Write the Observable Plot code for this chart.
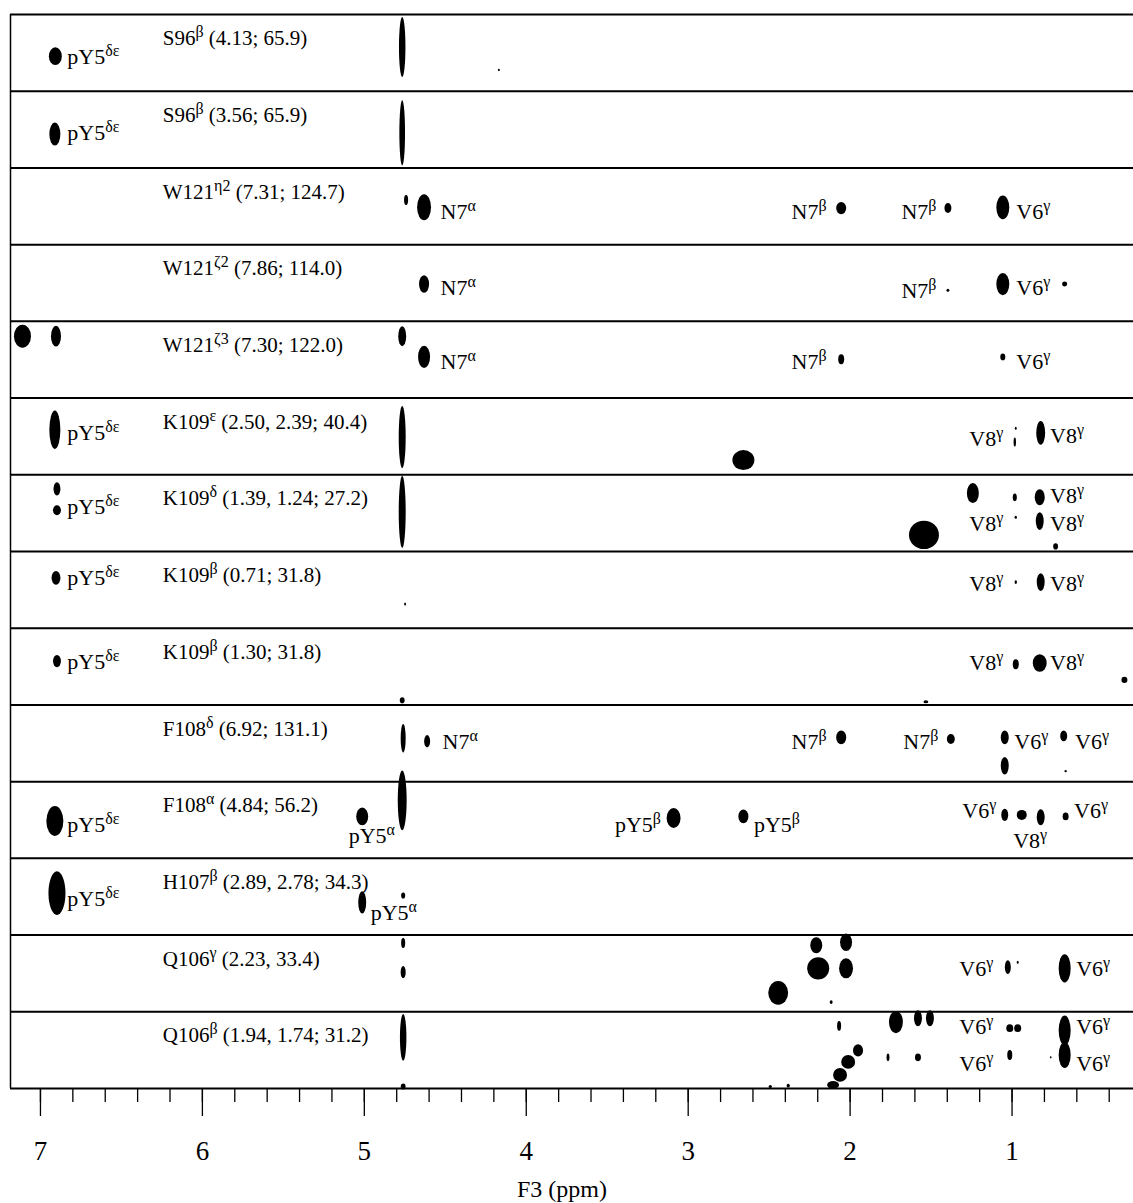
<!DOCTYPE html>
<html><head><meta charset="utf-8">
<script src="https://cdn.jsdelivr.net/npm/d3@7"></script>
<script src="https://cdn.jsdelivr.net/npm/@observablehq/plot@0.6"></script>
<style>body{margin:0;background:#fff;}</style>
</head><body><div id="chart"></div>
<script>
// Strip titles (top to bottom)
const stripTitles = [
  "S96^β (4.13; 65.9)",
  "S96^β (3.56; 65.9)",
  "W121^{η2} (7.31; 124.7)",
  "W121^{ζ2} (7.86; 114.0)",
  "W121^{ζ3} (7.30; 122.0)",
  "K109^ε (2.50, 2.39; 40.4)",
  "K109^δ (1.39, 1.24; 27.2)",
  "K109^β (0.71; 31.8)",
  "K109^β (1.30; 31.8)",
  "F108^δ (6.92; 131.1)",
  "F108^α (4.84; 56.2)",
  "H107^β (2.89, 2.78; 34.3)",
  "Q106^γ (2.23, 33.4)",
  "Q106^β (1.94, 1.74; 31.2)"
];
const titlePpm = 6.245;
const titleF1 = 0.40;

const majorTicks = [7, 6, 5, 4, 3, 2, 1];
const minorTicks = [7.0, 6.8, 6.6, 6.4, 6.2, 6.0, 5.8, 5.6, 5.4, 5.2, 5.0, 4.8, 4.6, 4.4, 4.2, 4.0, 3.8, 3.6, 3.4, 3.2, 3.0, 2.8, 2.6, 2.4, 2.2, 2.0, 1.8, 1.6, 1.4, 1.2, 1.0, 0.8, 0.6, 0.4];
const xDomain = [7.185, 0.25];

// Cross peaks: [strip, F3 ppm, F1 position within strip, F3 linewidth (ppm), F1 linewidth]
const peaks = [
  [0, 6.905, .55, .08, .23], [0, 4.763, .43, .04, .78], [0, 4.166, .73, .012, .03],
  [1, 6.908, .565, .068, .30], [1, 4.763, .55, .035, .85],
  [2, 4.739, .425, .025, .13], [2, 4.628, .52, .086, .34], [2, 2.052, .53, .062, .16], [2, 1.393, .53, .043, .13], [2, 1.054, .52, .08, .31],
  [3, 4.628, .52, .062, .23], [3, 1.393, .60, .018, .04], [3, 1.054, .52, .08, .29], [3, 0.672, .52, .031, .065],
  [4, 7.108, .20, .105, .30], [4, 6.901, .20, .062, .27], [4, 4.763, .20, .049, .26], [4, 4.628, .47, .074, .29], [4, 2.052, .50, .037, .13], [4, 1.054, .47, .031, .09],
  [5, 6.908, .42, .068, .50], [5, 4.763, .515, .043, .81], [5, 2.656, .815, .136, .26], [5, 0.974, .40, .012, .04], [5, 0.980, .58, .015, .12], [5, 0.820, .46, .055, .31],
  [6, 6.895, .19, .043, .17], [6, 6.895, .47, .049, .13], [6, 4.763, .49, .043, .94], [6, 1.239, .245, .074, .26], [6, 1.541, .79, .185, .37], [6, 0.980, .30, .025, .10], [6, 0.826, .30, .062, .21], [6, 0.974, .56, .015, .04], [6, 0.826, .61, .049, .23], [6, 0.728, .94, .03, .08],
  [7, 6.901, .35, .055, .18], [7, 4.745, .69, .012, .04], [7, 0.974, .405, .015, .05], [7, 0.820, .405, .049, .23],
  [8, 6.895, .435, .049, .16], [8, 4.763, .945, .03, .08], [8, 1.529, .965, .03, .04], [8, 0.974, .475, .037, .13], [8, 0.826, .46, .086, .23], [8, 0.303, .68, .037, .08],
  [9, 4.757, .44, .031, .37], [9, 4.609, .48, .037, .16], [9, 2.052, .43, .062, .18], [9, 1.375, .45, .049, .13], [9, 1.042, .43, .049, .18], [9, 1.042, .80, .049, .23], [9, 0.678, .41, .043, .14], [9, 0.666, .87, .015, .03],
  [10, 6.908, .52, .105, .39], [10, 5.010, .46, .074, .23], [10, 4.763, .25, .055, .78], [10, 3.087, .48, .086, .26], [10, 2.656, .46, .062, .18], [10, 1.042, .44, .043, .16], [10, 0.937, .44, .062, .13], [10, 0.820, .47, .049, .21], [10, 0.666, .46, .037, .10],
  [11, 6.895, .46, .105, .57], [11, 5.010, .58, .049, .29], [11, 4.757, .49, .025, .08],
  [12, 4.757, .11, .025, .13], [12, 4.757, .49, .031, .16], [12, 2.206, .14, .074, .21], [12, 2.022, .10, .074, .23], [12, 2.194, .44, .136, .29], [12, 2.022, .44, .086, .26], [12, 2.441, .76, .123, .31], [12, 2.114, .88, .018, .05], [12, 1.023, .425, .037, .18], [12, 0.962, .36, .012, .04], [12, 0.672, .44, .074, .37],
  [13, 4.757, .34, .04, .61], [13, 4.757, .98, .03, .08], [13, 2.065, .19, .025, .13], [13, 1.714, .14, .086, .29], [13, 1.578, .09, .049, .21], [13, 1.504, .09, .049, .21], [13, 1.011, .22, .043, .10], [13, 0.962, .22, .043, .10], [13, 0.672, .25, .074, .39], [13, 0.672, .57, .074, .34], [13, 1.948, .51, .062, .16], [13, 2.009, .66, .086, .18], [13, 2.059, .83, .086, .18], [13, 2.102, .96, .074, .10], [13, 1.763, .60, .018, .10], [13, 1.578, .60, .037, .10], [13, 1.011, .57, .031, .13], [13, 0.758, .60, .01, .03], [13, 2.379, .97, .02, .05], [13, 2.49, .98, .02, .04]
];

// Assignment labels: [strip, F3 ppm, F1 baseline position, text]
const labelsStart = [
  [0, 6.834, .64, "pY5^{δε}"], [1, 6.834, .64, "pY5^{δε}"],
  [2, 4.529, .66, "N7^α"], [2, 0.974, .66, "V6^γ"],
  [3, 4.529, .66, "N7^α"], [3, 0.974, .66, "V6^γ"],
  [4, 4.529, .62, "N7^α"], [4, 0.974, .62, "V6^γ"],
  [5, 6.834, .55, "pY5^{δε}"], [5, 0.765, .59, "V8^γ"],
  [6, 6.834, .51, "pY5^{δε}"], [6, 0.765, .37, "V8^γ"], [6, 0.765, .73, "V8^γ"],
  [7, 6.834, .44, "pY5^{δε}"], [7, 0.765, .51, "V8^γ"],
  [8, 6.834, .53, "pY5^{δε}"], [8, 0.765, .55, "V8^γ"],
  [9, 4.517, .57, "N7^α"], [9, 0.986, .57, "V6^γ"], [9, 0.611, .57, "V6^γ"],
  [10, 6.834, .66, "pY5^{δε}"], [10, 2.594, .66, "pY5^β"], [10, 0.617, .48, "V6^γ"],
  [11, 6.834, .62, "pY5^{δε}"], [11, 4.961, .81, "pY5^α"],
  [12, 0.604, .53, "V6^γ"],
  [13, 0.604, .29, "V6^γ"], [13, 0.604, .77, "V6^γ"]
];
const labelsEnd = [
  [2, 2.145, .66, "N7^β"], [2, 1.467, .66, "N7^β"],
  [3, 1.467, .70, "N7^β"],
  [4, 2.145, .62, "N7^β"],
  [5, 1.054, .62, "V8^γ"], [6, 1.054, .73, "V8^γ"], [7, 1.054, .51, "V8^γ"], [8, 1.054, .55, "V8^γ"],
  [9, 2.145, .57, "N7^β"], [9, 1.455, .57, "N7^β"],
  [10, 3.168, .66, "pY5^β"], [10, 1.097, .48, "V6^γ"],
  [12, 1.116, .53, "V6^γ"],
  [13, 1.116, .29, "V6^γ"], [13, 1.116, .77, "V6^γ"]
];
const labelsMiddle = [
  [10, 4.954, .80, "pY5^α"], [10, 0.888, .87, "V8^γ"]
];
const axisLabel = "F3 (ppm)";

const peakData = peaks.map(([s, ppm, f, w, h]) => ({s, ppm, f, w, h}));
const toLabel = ([s, ppm, f, text]) => ({s, ppm, f, text});
const titleData = stripTitles.map((text, s) => ({s, ppm: titlePpm, f: titleF1, text}));

const serif = '"Liberation Serif","Times New Roman",serif';

const plot = Plot.plot({
  width: 1133, height: 1203,
  marginTop: 14, marginBottom: 115, marginLeft: 10, marginRight: 0,
  x: {domain: xDomain},
  y: {domain: [stripTitles.length, 0], axis: null},
  style: {fontFamily: serif, fontSize: "21px", color: "black", background: "white", overflow: "visible"},
  marks: [
    Plot.ruleY(d3.range(stripTitles.length + 1), {stroke: "black", strokeWidth: 2}),
    Plot.ruleX([xDomain[0]], {stroke: "black", strokeWidth: 1.5}),
    Plot.rect(peakData, {
      x1: d => d.ppm + d.w / 2, x2: d => d.ppm - d.w / 2,
      y1: d => d.s + d.f - d.h / 2, y2: d => d.s + d.f + d.h / 2,
      fill: "black", rx: 200, ry: 200
    }),
    Plot.text(titleData, {x: "ppm", y: d => d.s + d.f, text: "text", textAnchor: "start", lineAnchor: "bottom", fontSize: 21}),
    Plot.text(labelsStart.map(toLabel), {x: "ppm", y: d => d.s + d.f, text: "text", textAnchor: "start", lineAnchor: "bottom", fontSize: 22}),
    Plot.text(labelsEnd.map(toLabel), {x: "ppm", y: d => d.s + d.f, text: "text", textAnchor: "end", lineAnchor: "bottom", fontSize: 22}),
    Plot.text(labelsMiddle.map(toLabel), {x: "ppm", y: d => d.s + d.f, text: "text", textAnchor: "middle", lineAnchor: "bottom", fontSize: 22}),
    Plot.axisX(minorTicks, {tickSize: 14, tickFormat: () => "", label: null, strokeWidth: 1.3}),
    Plot.axisX(majorTicks, {tickSize: 28, tickPadding: 24, fontSize: 27, tickFormat: d => String(d), label: null, strokeWidth: 1.3}),
    Plot.text([axisLabel], {text: d => d, frameAnchor: "bottom", dx: -10, dy: 108, lineAnchor: "bottom", fontSize: 24})
  ]
});

// Render ^x and ^{xy} as real superscripts
d3.select(plot).selectAll("text").each(function() {
  const s = this.textContent;
  if (!s.includes("^")) return;
  const el = d3.select(this);
  el.text(null);
  const re = /\^(\{[^}]*\}|.)/g;
  let last = 0, m, raised = false;
  while ((m = re.exec(s))) {
    if (m.index > last) {
      el.append("tspan").attr("dy", raised ? "8px" : null).text(s.slice(last, m.index));
      raised = false;
    }
    const sup = m[1].startsWith("{") ? m[1].slice(1, -1) : m[1];
    el.append("tspan").attr("dy", "-8px").attr("font-size", "16px").text(sup);
    raised = true;
    last = re.lastIndex;
  }
  if (last < s.length) el.append("tspan").attr("dy", raised ? "8px" : null).text(s.slice(last));
});

document.getElementById("chart").append(plot);
</script>
</body></html>
